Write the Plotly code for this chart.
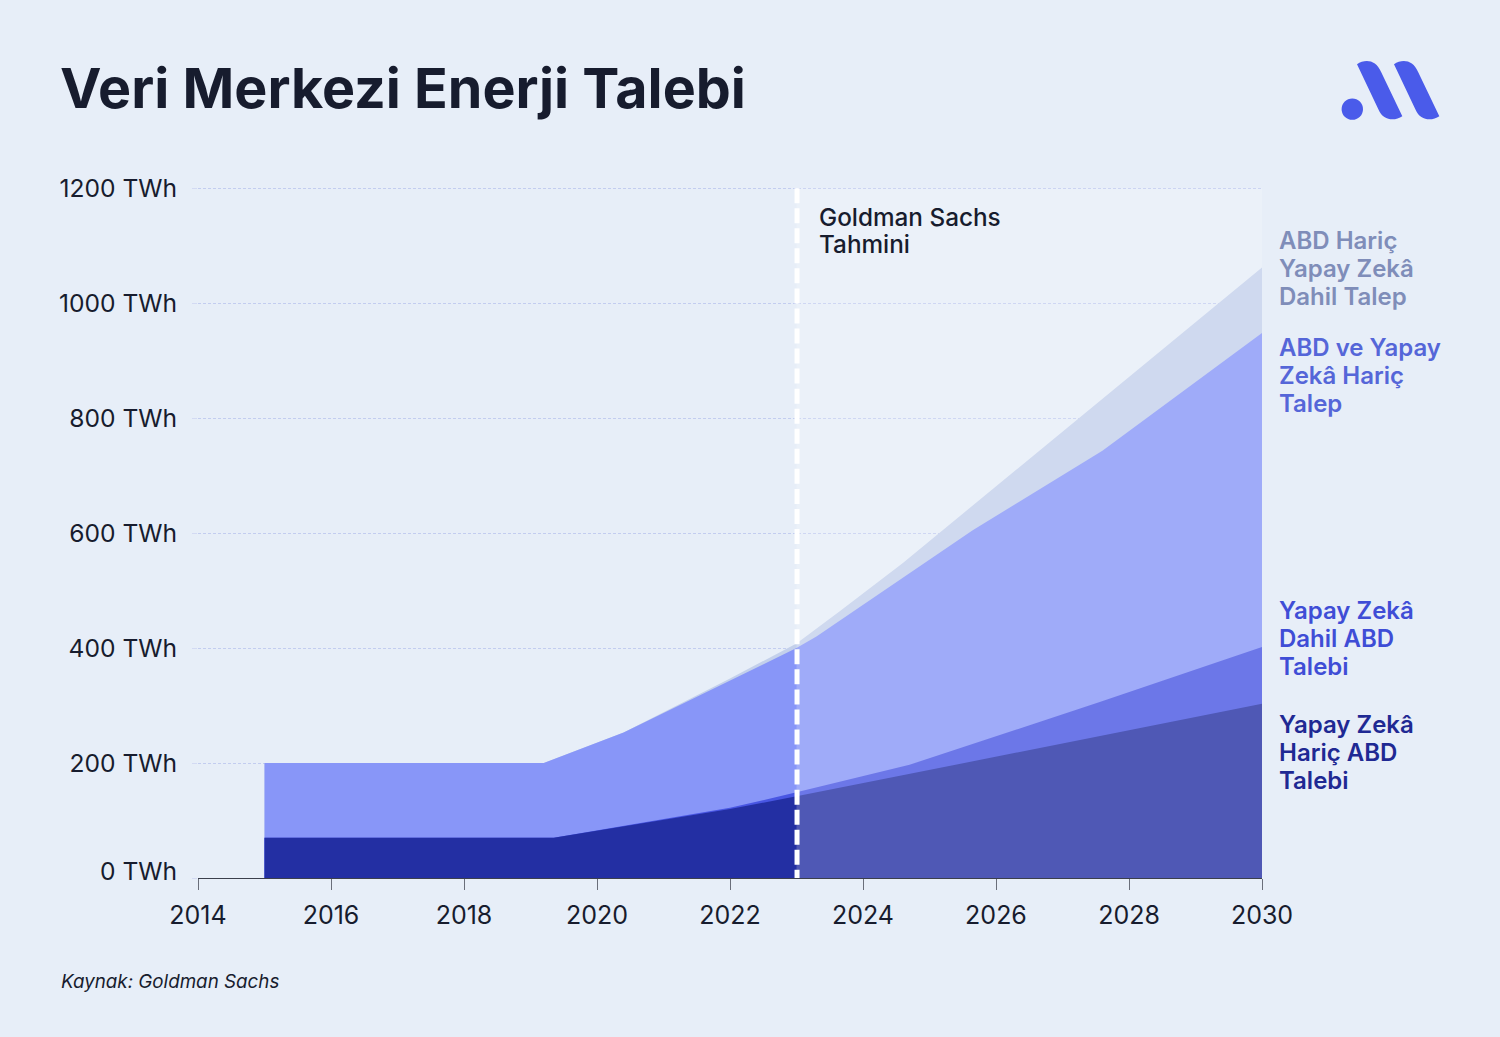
import plotly.graph_objects as go

# ---- data (top edge of each band, TWh) ----
x_total = [2015, 2019.2, 2020.4, 2022, 2023, 2023.65, 2024.6, 2030]
y_total = [200, 200, 253, 347, 408, 464, 548, 1062]
x_ex_ai = [2015, 2019.2, 2020.4, 2022, 2023, 2023.3, 2025.65, 2027.6, 2030]
y_ex_ai = [200, 200, 253, 344, 400, 420, 605, 743, 948]
x_us_ai = [2015, 2019.35, 2022, 2023, 2024.7, 2027.56, 2030]
y_us_ai = [70, 70, 122, 149, 197, 306, 402]
x_us = [2015, 2019.35, 2022, 2023, 2030]
y_us = [70, 70, 120, 142, 303]

forecast_start = 2023.008
x_ticks = [2014, 2016, 2018, 2020, 2022, 2024, 2026, 2028, 2030]
y_ticks = [0, 200, 400, 600, 800, 1000, 1200]
y_tick_labels = ["", "200 TWh", "400 TWh", "600 TWh", "800 TWh", "1000 TWh", "1200 TWh"]

title = "Veri Merkezi Enerji Talebi"
source = "Kaynak: Goldman Sachs"
note_lines = ["Goldman Sachs", "Tahmini"]
side_labels = [
    (["ABD Hariç", "Yapay Zekâ", "Dahil Talep"], 240, "#7f8db9"),
    (["ABD ve Yapay", "Zekâ Hariç", "Talep"], 347, "#5566d8"),
    (["Yapay Zekâ", "Dahil ABD", "Talebi"], 610, "#3f4dd6"),
    (["Yapay Zekâ", "Hariç ABD", "Talebi"], 724, "#1f2993"),
]

BG = "#e7eef8"
INK = "#171c2e"
FONT = "Inter"
Y_TOP = 1202  # a little headroom so the 1200 gridline is drawn
L, R, B = 198, 1262, 878
T = B - 690 * Y_TOP / 1200


def xp(px):
    return (px - L) / (R - L)


def yp(py):
    return (B - py) / (B - T)


def text(px, py, s, size, color=INK, anchor="left", weight=500, style="normal"):
    return dict(
        x=xp(px), y=yp(py), xref="paper", yref="paper", text=s, showarrow=False,
        xanchor=anchor, yanchor="middle", align=anchor,
        font=dict(family=FONT, size=size, color=color, weight=weight, style=style),
    )


fig = go.Figure()
for xs, ys, color, name in [
    (x_total, y_total, "#c3d0eb", "ABD Hariç Yapay Zekâ Dahil Talep"),
    (x_ex_ai, y_ex_ai, "#8896f8", "ABD ve Yapay Zekâ Hariç Talep"),
    (x_us_ai, y_us_ai, "#4856e3", "Yapay Zekâ Dahil ABD Talebi"),
    (x_us, y_us, "#232fa3", "Yapay Zekâ Hariç ABD Talebi"),
]:
    fig.add_trace(go.Scatter(
        x=xs, y=ys, name=name, mode="lines", fill="tozeroy", fillcolor=color,
        line=dict(width=0, color=color), showlegend=False, hoverinfo="x+y+name",
    ))

annotations = [text(178.5, 871, "0 TWh", 24.6, anchor="right", weight=400)]
annotations.append(text(59, 981.5, source, 18.8, weight=400, style="italic"))
for i, line in enumerate(note_lines):
    annotations.append(text(817, 217 + 27 * i, line, 24.3, weight=550))
for lines, py, color in side_labels:
    for i, line in enumerate(lines):
        annotations.append(text(1277, py + 28 * i, line, 24, color=color, weight=600))


def logo_path(shift=0.0):
    # coordinates in page pixels
    pts = lambda a, b: f"{xp(1320 + (a + shift) / 3):.5f},{yp(40 + b / 3):.5f}"
    return (
        f"M{pts(111, 72)} C{pts(135, 56)} {pts(168, 58)} {pts(183, 95)} "
        f"L{pts(247, 228)} C{pts(225, 243)} {pts(190, 243)} {pts(175, 207)} Z"
    )


shapes = [
    dict(type="rect", xref="x", yref="y", x0=2023, x1=2030, y0=0, y1=1200,
         fillcolor="rgba(255,255,255,0.2)", line_width=0, layer="above"),
    dict(type="line", xref="x", yref="y", x0=forecast_start, x1=forecast_start, y0=1200, y1=0,
         line=dict(color="#ffffff", width=5, dash="15px,5.05px"), layer="above"),
    dict(type="path", xref="paper", yref="paper", path=logo_path(), fillcolor="#4a5bea", line_width=0),
    dict(type="path", xref="paper", yref="paper", path=logo_path(111), fillcolor="#4a5bea", line_width=0),
    dict(type="circle", xref="paper", yref="paper", x0=xp(1341.6), x1=xp(1363), y0=yp(119.7), y1=yp(98.3),
         fillcolor="#4a5bea", line_width=0),
]

fig.update_layout(
    width=1500, height=1037, autosize=False,
    margin=dict(l=L, r=1500 - R, t=T, b=1037 - B, pad=0),
    paper_bgcolor=BG, plot_bgcolor=BG,
    title=dict(text=title, x=60 / 1500, xanchor="left", xref="container",
               y=1 - 88.5 / 1037, yanchor="middle", yref="container",
               font=dict(family=FONT, size=55.6, color=INK, weight=700)),
    xaxis=dict(range=[2014, 2030], tickvals=x_ticks, ticktext=[str(v) for v in x_ticks],
               showgrid=False, zeroline=False, showline=True, linecolor="#3b3f4c", linewidth=1,
               ticks="outside", ticklen=11, tickwidth=1, tickcolor="#6a6e7a",
               ticklabelstandoff=4,
               tickfont=dict(family=FONT, size=25, color=INK)),
    yaxis=dict(range=[0, Y_TOP], tickvals=y_ticks, ticktext=y_tick_labels,
               showgrid=True, gridcolor="#c3cdf0", griddash="3px,2px", gridwidth=1,
               zeroline=False, showline=False,
               ticks="outside", ticklen=5, tickwidth=1, tickcolor="#d3daf3",
               ticklabelstandoff=10,
               tickfont=dict(family=FONT, size=24.6, color=INK)),
    annotations=annotations,
    shapes=shapes,
)

fig.write_html(
    "out.html",
    config={"displayModeBar": False},
    post_script="document.body.style.margin='0';document.body.style.overflow='hidden';",
)
